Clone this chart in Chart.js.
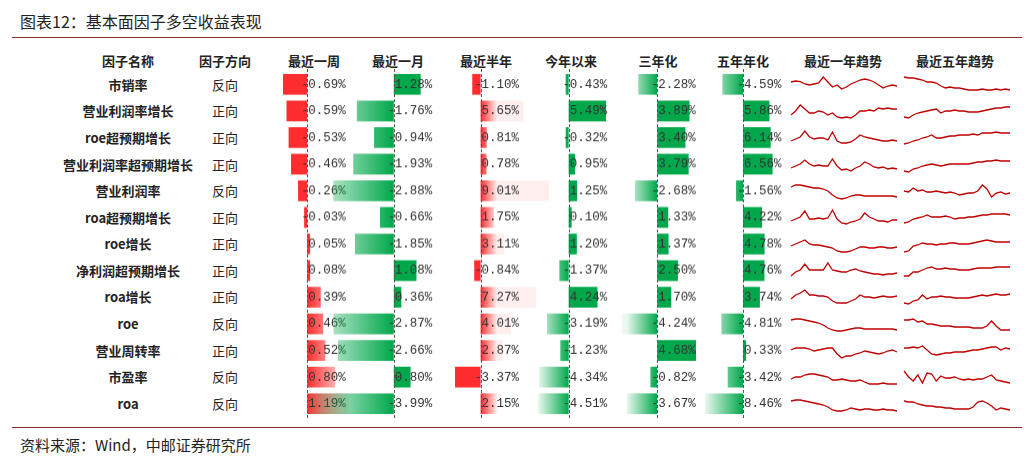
<!DOCTYPE html>
<html><head><meta charset="utf-8">
<script src="https://cdn.jsdelivr.net/npm/chart.js@4"></script>
<style>
body{margin:0;width:1033px;height:463px;background:#fff;position:relative;overflow:hidden;font-family:"Noto Sans CJK SC",sans-serif;}
.t{position:absolute;white-space:nowrap;color:#222;}
canvas{position:absolute;}
.hl{position:absolute;left:12px;width:1010px;height:1px;background:#8c2a2a;}
</style></head><body>
<script>
const factors=['市销率','营业利润率增长','roe超预期增长','营业利润率超预期增长','营业利润率','roa超预期增长','roe增长','净利润超预期增长','roa增长','roe','营业周转率','市盈率','roa'];
const directions=['反向','正向','正向','正向','反向','正向','正向','正向','正向','反向','正向','反向','反向'];
const headers=['因子名称','因子方向','最近一周','最近一月','最近半年','今年以来','三年化','五年年化','最近一年趋势','最近五年趋势'];
const week=[-0.69,-0.59,-0.53,-0.46,-0.26,-0.03,0.05,0.08,0.39,0.46,0.52,0.80,1.19];
const month=[1.28,-1.76,-0.94,-1.93,-2.88,-0.66,-1.85,1.08,0.36,-2.87,-2.66,0.80,-3.99];
const halfYear=[-1.10,5.65,0.81,0.78,9.01,1.75,3.11,-0.84,7.27,4.01,2.87,-3.37,2.15];
const ytd=[-0.43,5.49,-0.32,0.95,1.25,0.10,1.20,-1.37,4.24,-3.19,-1.23,-4.34,-4.51];
const threeYear=[-2.28,3.89,3.40,3.79,-2.68,1.33,1.37,2.50,1.70,-4.24,4.68,-0.82,-3.67];
const fiveYear=[-4.59,5.86,6.14,6.56,-1.56,4.22,4.78,4.76,3.74,-4.81,0.33,-3.42,-8.46];
const trend1Y=[
[6,6.5,6.2,5,4.5,5,5.5,8.5,6,3.5,4.5,2.5,3.5,5,6,7,7.5,7,6,4.5,3,4,4.5,4],
[3,5,8,6,4,4,5,4.5,3,4,2,1.5,2,1.5,3,5,5,5.5,5,6.5,6,6.5,6,6],
[3,4,5,8,5,4,4.5,4.5,3.5,7.5,3,2,2,2.5,4,6,5,4.5,4,3.5,3,3,3.5,3],
[3,4,5,7,5,4,4.5,4,4,7.5,4,2,2.5,1.5,3,4,6,5,3.5,3,3.5,2.5,3,2.5],
[7,8,8,7.5,7,6.5,6.5,6,5,3,1.5,1,1.5,2.5,3,3,2.5,2.5,2.5,2.5,2.5,2.5,2.5,2],
[3,4,5,8,4,4,4.5,4,4.5,8.5,4,2,1.5,2.5,3,4,7,5,4,3,3,2.5,3.5,3.5],
[4,5,6,7,5,4.5,4.5,4,3.5,3,1.5,1,1,1.5,2.5,3.5,3.5,3,3,3.5,3.5,3,3,3.5],
[2,4,5,8,5,5,5,5,8.5,5,4.5,4,4,5,5.5,4.5,4,3.5,3,3,2.5,3,3,3.5],
[4,6,7,8.5,6,6,5.5,5.5,5,3,2,2,2,3,4,6,5,5,4.5,5,5.5,5,5,5.5],
[7,7.5,7.5,7,6.5,6,5.5,4.5,3,2,1.5,1.5,2,2.5,3,3,2.5,2.5,2.5,2.5,2.5,2.5,2.5,2],
[5,6,6,6,5.5,4.5,5,5.5,6,6,3,1,2,2,3,3.5,4.5,4,3.5,3,3.5,4.5,5,4],
[4,5,5,6,6.5,6.5,6,5.5,5,3.5,3.5,4,3.5,3,3,3.5,2.5,1.5,1.5,1.5,2,1.5,1.5,1.5],
[6,6.5,6.5,6,5.5,5,4.5,4,3,1.5,1,1,1.5,2.5,2,1.5,2,2,1.5,1.5,2,1.5,1.5,1]];
const trend5Y=[
[8.5,8,8,7.5,7,6,6,5.5,4,3,3.5,3,3,2.5,2,2,2,2.5,2,2,2.5,2,2.5,2],
[2,1.5,3,4,4.5,5,5.5,6,4,5,5,5.5,5,5,4.5,4.5,4.5,5,5.5,6,6.5,6.5,7,7],
[1.5,2,3,3.5,4.5,5,6,4.5,4.5,5,5.5,5.5,6,6,6,6.5,6,7,7,7,7.5,7,7,7],
[1.5,1,2.5,3,4,4.5,5,4.5,4,4.5,5,5,5,5,5,5.5,6,6,6.5,6.5,7,6.5,6.5,6.5],
[5,4.5,6.5,5,5.5,4.5,4.5,5,4.5,4,4.5,4,3,3.5,4,4,5,8,6,2,4,4.5,3.5,4],
[2,2.5,4,4.5,5,6,5,5,5,5.5,5,4,4.5,4.5,5,5,5.5,6,6,6.5,6.5,6.5,6.5,6],
[1,1.5,4,4.5,5.5,5,5,4.5,5,5,5.5,5.5,5,5,5,5.5,6,6.5,7,6.5,6,6,6,6],
[2,2,4,4,5,6,6.5,5.5,5.5,6,5.5,5.5,5,5,5,5.5,6,6,6,6,6.5,6.5,6.5,6.5],
[2,1.5,3,3.5,6,4,5,5,5.5,5,5,4.5,4.5,4.5,4.5,5,5.5,6,5.5,6,6.5,6,6,6.5],
[7,7,7.5,6,6.5,5,5,4.5,4,4,4,3.5,3.5,3.5,3.5,3,3,3,4,6.5,4,2,2,2],
[6,6,6.5,6,7,5,3,2.5,3,3.5,3.5,4,4,4,4.5,5,5,5.5,6,6.5,6.5,5,6,5.5],
[8,5,3,6,2,7,6.5,3,5.5,4.5,4.5,5,4,3.5,4,3.5,4,4,5,6,3.5,3,2.5,2],
[6,5.5,5.5,4.5,4,3.5,3.5,3,3,2.5,2.5,2,2,2,2,3,5.5,6,5,3.5,1.5,2.5,2,1.5]];

const valueCols=[week,month,halfYear,ytd,threeYear,fiveYear];
const zeroX=[307,394,481,569,657,743];
const pxPerUnit=[35,21,7.6,6.8,8.3,4.5];
const headerX=[128,225,314,398,486,571,658,743,843,955];
const rowTop=71, rowH=26.58, N=factors.length;

function addText(txt,cx,cy,css){const d=document.createElement('div');d.className='t';d.textContent=txt;d.style.cssText+=css;document.body.appendChild(d);
 const r=d.getBoundingClientRect();d.style.left=(cx-r.width/2)+'px';d.style.top=(cy-r.height/2)+'px';return d;}
const tt=document.createElement('div');tt.className='t';tt.textContent='图表12：基本面因子多空收益表现';tt.style.cssText+='left:20px;top:9px;font-size:16px;color:#222;';document.body.appendChild(tt);
const ft=document.createElement('div');ft.className='t';ft.textContent='资料来源：Wind，中邮证券研究所';ft.style.cssText+='left:20px;top:434px;font-size:15px;color:#222;';document.body.appendChild(ft);
['37px','427px'].forEach(t=>{const l=document.createElement('div');l.className='hl';l.style.top=t;document.body.appendChild(l);});
headers.forEach((h,i)=>addText(h,headerX[i],60,'font-size:13px;font-weight:bold;'));
factors.forEach((f,i)=>{const cy=rowTop+rowH*(i+0.5);addText(f,128,cy,'font-size:13px;font-weight:bold;');addText(directions[i],225,cy,'font-size:13px;');});

function mkCanvas(l,t,w,h){const c=document.createElement('canvas');c.style.left=l+'px';c.style.top=t+'px';c.style.width=w+'px';c.style.height=h+'px';c.width=w;c.height=h;document.body.appendChild(c);return c;}

const gradPlugin={id:'grad',beforeDatasetsDraw(chart){const ctx=chart.ctx;const meta=chart.getDatasetMeta(0);const vals=chart.data.datasets[0].data;
 meta.data.forEach((el,i)=>{const a=el.base,b=el.x;const g=ctx.createLinearGradient(a,0,b===a?a+0.01:b,0);
  if(vals[i]<0){g.addColorStop(0,'rgba(0,168,75,1)');g.addColorStop(1,'rgba(0,168,75,0.08)');}else{g.addColorStop(0,'rgba(255,45,45,1)');g.addColorStop(1,'rgba(255,45,45,0.08)');}
  el.options.backgroundColor=g;});}};
const labelPlugin={id:'vals',afterDatasetsDraw(chart){const ctx=chart.ctx,xs=chart.scales.x,ys=chart.scales.y;const x0=xs.getPixelForValue(0);
 ctx.save();ctx.strokeStyle='#555';ctx.setLineDash([3,2]);ctx.lineWidth=1;ctx.beginPath();ctx.moveTo(Math.round(x0)+0.5,0);ctx.lineTo(Math.round(x0)+0.5,chart.height);ctx.stroke();ctx.setLineDash([]);
 ctx.font='12.5px "Liberation Mono", monospace';ctx.fillStyle='#333';ctx.textBaseline='middle';
 chart.data.datasets[0].data.forEach((v,i)=>{const y=ys.getPixelForValue(i);const s=Math.abs(v).toFixed(2)+'%';
  if(v<0){ctx.fillText('-',x0-6,y);} ctx.fillText(s,x0+1,y);});ctx.restore();}};

valueCols.forEach((vals,ci)=>{const k=pxPerUnit[ci];const lo=Math.min(...vals,0);const negPx=-lo*k+3;const w=Math.round(negPx+88);
 const left=zeroX[ci]-negPx;const c=mkCanvas(left,rowTop-2,w,rowH*N+4);
 new Chart(c,{type:'bar',data:{labels:factors,datasets:[{data:vals,minBarLength:3,categoryPercentage:1,barPercentage:0.78,backgroundColor:'#ccc'}]},
  options:{indexAxis:'y',responsive:false,animation:false,devicePixelRatio:1,layout:{padding:{top:2,bottom:2,left:0,right:0}},
   scales:{x:{display:false,min:-negPx/k,max:(w-negPx)/k},y:{display:false}},plugins:{legend:{display:false},tooltip:{enabled:false}}},
  plugins:[gradPlugin,labelPlugin]});});

function spark(data,left,i){const cy=rowTop+rowH*(i+0.5);const c=mkCanvas(left,Math.round(cy-11),108,22);
 new Chart(c,{type:'line',data:{labels:data.map((_,j)=>j),datasets:[{data,borderColor:'#c00000',borderWidth:1.3,pointRadius:0,tension:0}]},
  options:{responsive:false,animation:false,devicePixelRatio:1,layout:{padding:1},scales:{x:{display:false},y:{display:false,min:0,max:10}},plugins:{legend:{display:false},tooltip:{enabled:false}}}});}
trend1Y.forEach((d,i)=>spark(d,790,i));
trend5Y.forEach((d,i)=>spark(d,903,i));
</script>
</body></html>
